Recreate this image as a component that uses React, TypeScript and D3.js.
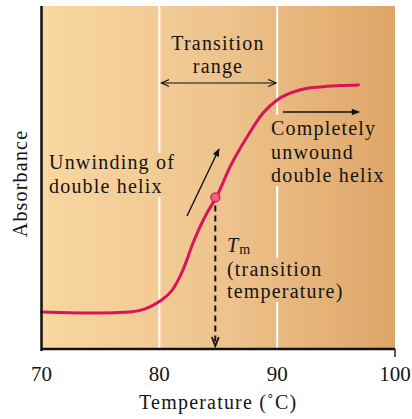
import React from "react";
import * as d3 from "d3";

const temps = [70, 75, 77.5, 78.8, 80.06, 81.1, 82.0, 82.86, 84.05, 84.8, 86.0, 87.44, 88.8, 90.0, 91.9, 93.6, 95.3, 96.9];
const absorb = [0.108, 0.105, 0.108, 0.117, 0.14, 0.172, 0.23, 0.309, 0.397, 0.44, 0.531, 0.618, 0.688, 0.726, 0.755, 0.764, 0.768, 0.77];
const xTicks = [70, 80, 90, 100];
const rangeLines = [80, 90];
const tm = 84.75;
const tmAbs = 0.442;

const W = 412, H = 419;
const L = 41.5, R = 395, T = 6, B = 349;
const FONT = "'Liberation Serif', 'Times New Roman', serif";

export default function App() {
  const x = d3.scaleLinear().domain([70, 100]).range([L, R]);
  const y = d3.scaleLinear().domain([0, 1]).range([B, T]);
  const pts: [number, number][] = temps.map((t, i) => [t, absorb[i]]);
  const line = d3.line<[number, number]>().x(d => x(d[0])).y(d => y(d[1])).curve(d3.curveMonotoneX);
  const txt = { fontFamily: FONT, fontSize: 20, fill: "#141414", letterSpacing: 1.2 } as const;
  return (
    <svg width={W} height={H} style={{ position: "absolute", left: 0, top: 0 }}>
      <defs>
        <linearGradient id="bg" gradientUnits="userSpaceOnUse" x1={L} x2={R} y1={0} y2={0}>
          <stop offset="0" stopColor="#f9d7a1" />
          <stop offset="0.5" stopColor="#eec48e" />
          <stop offset="1" stopColor="#dea568" />
        </linearGradient>
        <marker id="ah" viewBox="0 0 10 10" refX="9" refY="5" markerWidth="9" markerHeight="9" orient="auto-start-reverse" markerUnits="userSpaceOnUse">
          <path d="M0,1 L9,5 L0,9" fill="none" stroke="#111" strokeWidth="1.2" />
        </marker>
        <marker id="ahs" viewBox="0 0 10 10" refX="9" refY="5" markerWidth="10" markerHeight="8" orient="auto" markerUnits="userSpaceOnUse">
          <path d="M0,1 L10,5 L0,9 Z" fill="#111" />
        </marker>
      </defs>
      <rect x={L} y={T} width={R - L} height={B - T} fill="url(#bg)" />
      {rangeLines.map(v => (
        <line key={v} x1={x(v)} x2={x(v)} y1={T} y2={B} stroke="#fff" strokeWidth={2} />
      ))}
      {/* text background boxes hiding the guide lines */}
      <rect x={150} y={153} width={30} height={44} fill="url(#bg)" />
      <rect x={268} y={115} width={20} height={71} fill="url(#bg)" />
      <rect x={268} y={258} width={20} height={44} fill="url(#bg)" />
      {/* transition range arrow */}
      <line x1={x(80) + 2} x2={x(90) - 1} y1={83} y2={83} stroke="#111" strokeWidth={1.1} markerStart="url(#ah)" markerEnd="url(#ah)" />
      <text {...txt} x={218} y={50} textAnchor="middle">Transition</text>
      <text {...txt} x={218} y={73} textAnchor="middle">range</text>
      {/* curve */}
      <path d={line(pts) ?? ""} fill="none" stroke="#d9145a" strokeWidth={3} strokeLinecap="round" />
      {/* Tm dashed drop */}
      <line x1={x(tm)} x2={x(tm)} y1={y(tmAbs) + 8} y2={B - 4} stroke="#111" strokeWidth={2} strokeDasharray="6,4" />
      <path d={`M${x(tm) - 3.5},${B - 12} L${x(tm)},${B - 3} L${x(tm) + 3.5},${B - 12}`} fill="none" stroke="#111" strokeWidth={1.8} />
      <circle cx={x(tm)} cy={y(tmAbs)} r={4.5} fill="#e8667e" stroke="#d9145a" strokeWidth={1.3} />
      {/* unwinding arrow */}
      <line x1={187} y1={216} x2={219} y2={149} stroke="#111" strokeWidth={1.4} markerEnd="url(#ahs)" />
      <text {...txt} x={49} y={169}>Unwinding of</text>
      <text {...txt} x={49} y={193}>double helix</text>
      {/* completely unwound */}
      <line x1={283} y1={112} x2={359} y2={112} stroke="#111" strokeWidth={1.4} markerEnd="url(#ahs)" />
      <text {...txt} x={271} y={135}>Completely</text>
      <text {...txt} x={271} y={159}>unwound</text>
      <text {...txt} x={271} y={182}>double helix</text>
      {/* Tm label */}
      <text {...txt} x={227} y={252}>
        <tspan fontStyle="italic">T</tspan>
        <tspan fontSize={14} dy={2}>m</tspan>
      </text>
      <text {...txt} x={227} y={276}>(transition</text>
      <text {...txt} x={227} y={298}>temperature)</text>
      {/* axes */}
      <line x1={L} x2={L} y1={T} y2={B + 2} stroke="#111" strokeWidth={2.5} />
      <line x1={L} x2={R} y1={B} y2={B} stroke="#111" strokeWidth={2.5} />
      <line x1={R} x2={R} y1={B} y2={B + 8} stroke="#111" strokeWidth={1.4} />
      {xTicks.map(v => (
        <text key={v} {...txt} letterSpacing={0} fontSize={21} x={x(v)} y={381} textAnchor="middle">{v}</text>
      ))}
      <text {...txt} x={(L + R) / 2} y={409} textAnchor="middle">Temperature (˚C)</text>
      <text {...txt} transform={`translate(27,${(T + B) / 2 + 6}) rotate(-90)`} textAnchor="middle">Absorbance</text>
    </svg>
  );
}
